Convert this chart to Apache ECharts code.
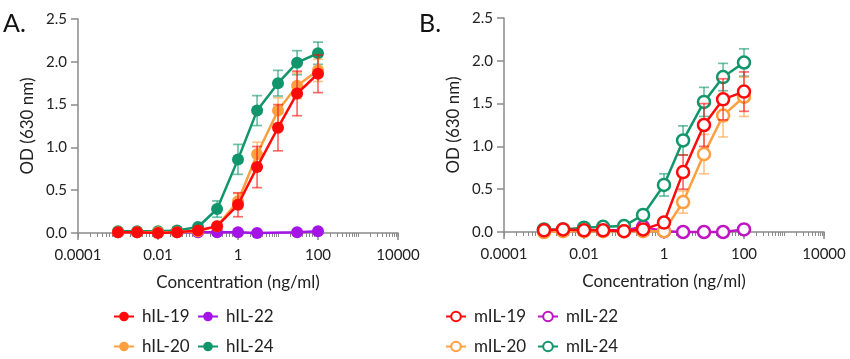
<!DOCTYPE html>
<html><head><meta charset="utf-8">
<script src="https://cdn.jsdelivr.net/npm/echarts@6/dist/echarts.min.js"></script>
<style>html,body{margin:0;padding:0;background:#fff}#c{width:850px;height:359px}</style>
</head><body><div id="c"></div>
<script>
// ---- data ----
const conc = [0.001, 0.003, 0.01, 0.03, 0.1, 0.3, 1, 3, 10, 30, 100];
const xTickLabels = ['0.0001', '0.01', '1', '100', '10000'];
const yTickLabels = ['0.0', '0.5', '1.0', '1.5', '2.0', '2.5'];

// Panel A (human)
const hIL19 = [0.01, 0.01, 0.00, 0.01, 0.03, 0.08, 0.33, 0.77, 1.23, 1.63, 1.86];
const hIL19err = [0.01, 0.01, 0.01, 0.01, 0.02, 0.03, 0.14, 0.24, 0.27, 0.26, 0.22];
const hIL20 = [0.01, 0.01, 0.01, 0.01, 0.02, 0.08, 0.37, 0.92, 1.43, 1.72, 1.90];
const hIL20err = [0.01, 0.01, 0.01, 0.01, 0.02, 0.03, 0.09, 0.14, 0.15, 0.15, 0.13];
const hIL22 = [0.01, 0.01, 0.01, 0.01, 0.01, 0.01, 0.01, 0.00, null, 0.01, 0.02];
const hIL22err = [0, 0, 0, 0, 0, 0, 0, 0, null, 0, 0];
const hIL24 = [0.02, 0.02, 0.02, 0.03, 0.07, 0.28, 0.86, 1.43, 1.75, 1.99, 2.10];
const hIL24err = [0.01, 0.01, 0.01, 0.01, 0.02, 0.095, 0.175, 0.175, 0.15, 0.14, 0.13];

// Panel B (mouse)
const mIL19 = [0.02, 0.03, 0.02, 0.02, 0.01, 0.03, 0.11, 0.70, 1.25, 1.55, 1.64];
const mIL19err = [0.01, 0.01, 0.01, 0.01, 0.01, 0.01, 0.03, 0.20, 0.25, 0.24, 0.23];
const mIL20 = [0.00, 0.01, 0.01, 0.01, 0.01, 0.01, 0.01, 0.35, 0.91, 1.36, 1.58];
const mIL20err = [0.01, 0.01, 0.01, 0.01, 0.01, 0.01, 0.01, 0.13, 0.23, 0.25, 0.23];
const mIL22 = [0.02, 0.02, 0.02, 0.02, 0.02, 0.06, 0.01, 0.00, 0.00, 0.00, 0.03];
const mIL22err = [0, 0, 0, 0, 0, 0, 0, 0, 0, 0, 0];
const mIL24 = [0.03, 0.03, 0.05, 0.06, 0.07, 0.20, 0.55, 1.07, 1.52, 1.81, 1.98];
const mIL24err = [0.01, 0.01, 0.01, 0.01, 0.01, 0.02, 0.13, 0.17, 0.17, 0.16, 0.16];

// ---- styling ----
const RED = '#ff0a0a', ORANGE = '#ffa040', PURPLE_A = '#a414e6', PURPLE_B = '#c014c4', GREEN = '#10966a';
const FONT = 'Lato';
const AXIS = '#8a8a8a';
const TXT = '#222';

const chart = echarts.init(document.getElementById('c'), null, {renderer: 'canvas'});

const grids = [
  {left: 78, top: 19, width: 320, height: 214},
  {left: 78, top: 19, width: 320, height: 214},
  {left: 504, top: 18, width: 320, height: 214},
  {left: 504, top: 18, width: 320, height: 214}
];

function mainX(gi) {
  return {
    type: 'log', logBase: 10, gridIndex: gi, min: 0.0001, max: 10000, interval: 2,
    name: 'Concentration (ng/ml)', nameLocation: 'middle', nameGap: 41,
    nameTextStyle: {fontFamily: FONT, fontSize: 17, color: TXT},
    axisLine: {show: true, lineStyle: {color: AXIS, width: 1.5}},
    axisTick: {show: true, length: 7, lineStyle: {color: AXIS, width: 1.5}},
    minorTick: {show: false},
    splitLine: {show: false}, minorSplitLine: {show: false},
    axisLabel: {fontFamily: FONT, fontSize: 15, color: TXT, margin: 15,
      formatter: function (v) {
        const e = Math.round(Math.log10(v));
        const s = String(Math.pow(10, e) >= 1 ? Math.pow(10, e) : Math.pow(10, e).toFixed(-e));
        return xTickLabels.indexOf(s) >= 0 ? s : '';
      }}
  };
}
function tickX(gi) {
  return {
    type: 'log', logBase: 10, gridIndex: gi, min: 0.0001, max: 10000, interval: 1,
    axisLine: {show: false},
    axisTick: {show: true, length: 4, lineStyle: {color: AXIS, width: 1}},
    minorTick: {show: true, splitNumber: 9, length: 4, lineStyle: {color: AXIS, width: 1}},
    splitLine: {show: false}, minorSplitLine: {show: false},
    axisLabel: {show: false}
  };
}
function mainY(gi) {
  return {
    type: 'value', gridIndex: gi, min: 0, max: 2.5, interval: 0.5,
    name: 'OD (630 nm)', nameLocation: 'middle', nameGap: 42, nameRotate: 90,
    nameTextStyle: {fontFamily: FONT, fontSize: 17, color: TXT},
    axisLine: {show: true, lineStyle: {color: AXIS, width: 1.5}},
    axisTick: {show: true, length: 7, lineStyle: {color: AXIS, width: 1.5}},
    splitLine: {show: false},
    axisLabel: {fontFamily: FONT, fontSize: 15, color: TXT, margin: 11,
      formatter: function (v) { return yTickLabels[Math.round(v / 0.5)]; }}
  };
}
function dummyY(gi) {
  return {type: 'value', gridIndex: gi, min: 0, max: 2.5, show: false};
}

function pairs(vals, errs) {
  const out = [];
  for (let i = 0; i < conc.length; i++) {
    if (vals[i] == null) continue;
    out.push([conc[i], vals[i], errs ? errs[i] : 0]);
  }
  return out;
}

function lineSeries(name, vals, color, open, axIdx, z) {
  return {
    type: 'line', name: name, xAxisIndex: axIdx, yAxisIndex: axIdx,
    data: pairs(vals).map(p => [p[0], p[1]]),
    symbol: 'circle', symbolSize: 12, showSymbol: true,
    lineStyle: {color: color, width: 2.5},
    itemStyle: open ? {color: '#ffffff', borderColor: color, borderWidth: 2.5} : {color: color, borderWidth: 0},
    z: z, clip: false
  };
}

function errSeries(vals, errs, color, axIdx, z) {
  return {
    type: 'custom', xAxisIndex: axIdx, yAxisIndex: axIdx, z: z, clip: false,
    silent: true,
    data: pairs(vals, errs),
    renderItem: function (params, api) {
      const x = api.value(0), y = api.value(1), e = api.value(2);
      if (!e) return null;
      const t = api.coord([x, y + e]);
      const b = api.coord([x, y - e]);
      const cw = 5;
      const st = {stroke: color, lineWidth: 1.7, opacity: 0.6};
      return {type: 'group', children: [
        {type: 'line', shape: {x1: t[0], y1: t[1], x2: b[0], y2: b[1]}, style: st},
        {type: 'line', shape: {x1: t[0] - cw, y1: t[1], x2: t[0] + cw, y2: t[1]}, style: st},
        {type: 'line', shape: {x1: b[0] - cw, y1: b[1], x2: b[0] + cw, y2: b[1]}, style: st}
      ]};
    }
  };
}

function legendItem(name, left, top) {
  return {
    data: [name], orient: 'horizontal', left: left, top: top, padding: 0,
    itemWidth: 20, itemHeight: 12, itemGap: 0,
    textStyle: {fontFamily: FONT, fontSize: 17, color: TXT, padding: [0, 0, 0, 3]},
    selectedMode: false
  };
}

const option = {
  animation: false,
  backgroundColor: '#ffffff',
  title: [
    {text: 'A.', left: 3, top: 11, padding: 0, textStyle: {fontFamily: FONT, fontSize: 25, fontWeight: 'normal', color: '#111'}},
    {text: 'B.', left: 419, top: 11, padding: 0, textStyle: {fontFamily: FONT, fontSize: 25, fontWeight: 'normal', color: '#111'}}
  ],
  grid: grids,
  xAxis: [mainX(0), tickX(1), mainX(2), tickX(3)],
  yAxis: [mainY(0), dummyY(1), mainY(2), dummyY(3)],
  legend: [
    legendItem('hIL-19', 113, 308),
    legendItem('hIL-20', 113, 338),
    legendItem('hIL-22', 197, 308),
    legendItem('hIL-24', 197, 338),
    legendItem('mIL-19', 445, 308),
    legendItem('mIL-20', 445, 338),
    legendItem('mIL-22', 537, 308),
    legendItem('mIL-24', 537, 338)
  ],
  series: [
    // Panel A
    errSeries(hIL22, hIL22err, PURPLE_A, 0, 1),
    lineSeries('hIL-22', hIL22, PURPLE_A, false, 0, 2),
    errSeries(hIL24, hIL24err, GREEN, 0, 3),
    lineSeries('hIL-24', hIL24, GREEN, false, 0, 4),
    errSeries(hIL20, hIL20err, ORANGE, 0, 5),
    lineSeries('hIL-20', hIL20, ORANGE, false, 0, 6),
    errSeries(hIL19, hIL19err, RED, 0, 7),
    lineSeries('hIL-19', hIL19, RED, false, 0, 8),
    // Panel B
    errSeries(mIL22, mIL22err, PURPLE_B, 2, 1),
    lineSeries('mIL-22', mIL22, PURPLE_B, true, 2, 2),
    errSeries(mIL24, mIL24err, GREEN, 2, 3),
    lineSeries('mIL-24', mIL24, GREEN, true, 2, 4),
    errSeries(mIL20, mIL20err, ORANGE, 2, 5),
    lineSeries('mIL-20', mIL20, ORANGE, true, 2, 6),
    errSeries(mIL19, mIL19err, RED, 2, 7),
    lineSeries('mIL-19', mIL19, RED, true, 2, 8)
  ]
};
chart.setOption(option);
</script>
</body></html>
